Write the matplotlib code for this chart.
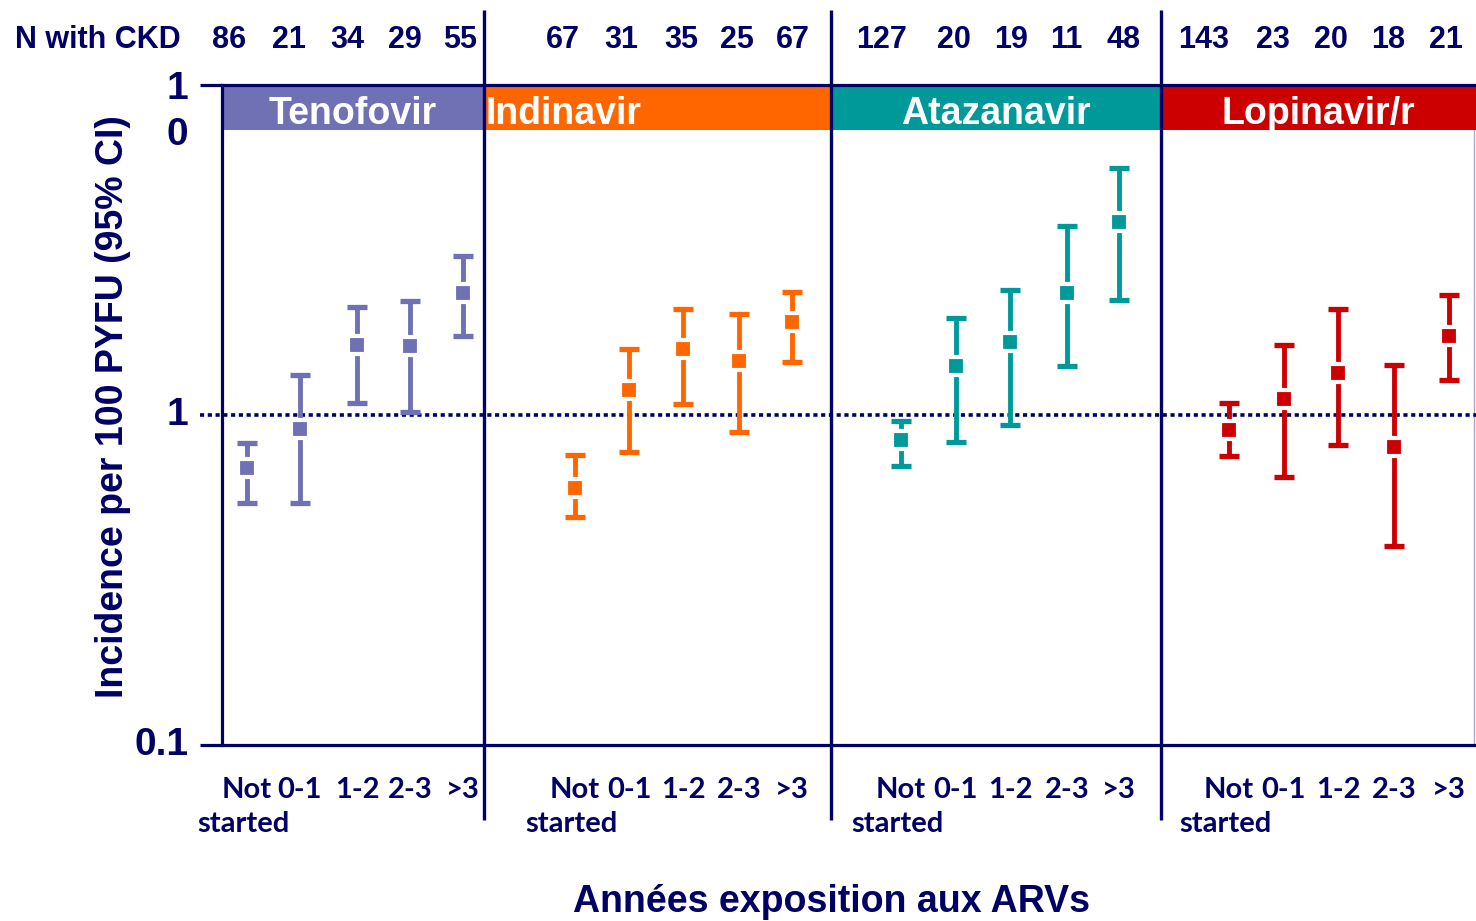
import matplotlib
matplotlib.use("Agg")
import matplotlib.pyplot as plt
import numpy as np
from matplotlib.patches import Rectangle

plt.rcParams['font.family'] = ['Liberation Sans', 'DejaVu Sans']
plt.rcParams['font.weight'] = 'bold'

NAVY = '#000066'
NARROW = ['Lato', 'DejaVu Sans']

# --- data ---
drugs = ['Tenofovir', 'Indinavir', 'Atazanavir', 'Lopinavir/r']
exposure = ['Not', '0-1', '1-2', '2-3', '>3']
first_label_2nd_line = 'started'

n_tenofovir = [86, 21, 34, 29, 55]
n_indinavir = [67, 31, 35, 25, 67]
n_atazanavir = [127, 20, 19, 11, 48]
n_lopinavir = [143, 23, 20, 18, 21]

inc_tenofovir = [0.69, 0.91, 1.63, 1.62, 2.35]
lo_tenofovir = [0.54, 0.54, 1.09, 1.02, 1.74]
hi_tenofovir = [0.82, 1.32, 2.12, 2.21, 3.03]

inc_indinavir = [0.60, 1.19, 1.58, 1.46, 1.91]
lo_indinavir = [0.49, 0.77, 1.08, 0.89, 1.45]
hi_indinavir = [0.755, 1.59, 2.10, 2.03, 2.36]

inc_atazanavir = [0.84, 1.41, 1.66, 2.35, 3.85]
lo_atazanavir = [0.70, 0.83, 0.93, 1.41, 2.23]
hi_atazanavir = [0.96, 1.97, 2.40, 3.74, 5.59]

inc_lopinavir = [0.90, 1.12, 1.34, 0.80, 1.74]
lo_lopinavir = [0.75, 0.65, 0.81, 0.40, 1.28]
hi_lopinavir = [1.09, 1.63, 2.09, 1.42, 2.31]

# --- layout (x axis runs in pixel-like units) ---
drug_colors = ['#7070b4', '#ff6600', '#009999', '#cc0000']
panel_edges = [222, 484, 831, 1161, 1476]
point_x = [[247, 300, 357, 410, 463],
           [575, 629, 683, 739, 792],
           [901, 956, 1010, 1067, 1119],
           [1229, 1284, 1338, 1394, 1449]]
n_label_x = [[229, 289, 347, 405, 460],
             [563, 621, 681, 737, 793],
             [882, 954, 1011, 1066, 1124],
             [1204, 1273, 1331, 1388, 1446]]

groups = [
    (n_tenofovir, inc_tenofovir, lo_tenofovir, hi_tenofovir),
    (n_indinavir, inc_indinavir, lo_indinavir, hi_indinavir),
    (n_atazanavir, inc_atazanavir, lo_atazanavir, hi_atazanavir),
    (n_lopinavir, inc_lopinavir, lo_lopinavir, hi_lopinavir),
]

W, H = 1476, 921
fig = plt.figure(figsize=(W / 100, H / 100), dpi=100)
ax = fig.add_axes([222 / W, (H - 745) / H, (W - 222) / W, 660 / H])
ax.set_yscale('log')
ax.set_ylim(0.1, 10)
ax.set_xlim(panel_edges[0], panel_edges[-1])

band_bottom = 7.29
xtrans = ax.get_xaxis_transform()

for i, (name, color, (n, inc, lo, hi)) in enumerate(zip(drugs, drug_colors, groups)):
    x0, x1 = panel_edges[i], panel_edges[i + 1]
    ax.add_patch(Rectangle((x0 + 2, band_bottom), x1 - x0 - 2, 10 - band_bottom,
                           facecolor=color, edgecolor='none', zorder=1))
    yc = np.sqrt(band_bottom * 10) * 0.955
    if name == 'Indinavir':
        ax.text(x0 + 2, yc, name, color='white', fontsize=27, ha='left', va='center', zorder=2)
    else:
        ax.text((x0 + x1) / 2, yc, name, color='white', fontsize=27, ha='center', va='center', zorder=2)

    inc = np.array(inc)
    yerr = [inc - np.array(lo), np.array(hi) - inc]
    ax.errorbar(point_x[i], inc, yerr=yerr, fmt='none', ecolor=color,
                elinewidth=3.5, capsize=7, capthick=3.8, zorder=3)
    ax.plot(point_x[i], inc, 's', color=color, ms=13.5, mec='white', mew=3, zorder=4)

    for xl, v in zip(n_label_x[i], n):
        ax.text(xl, 1.068, str(v), transform=xtrans, color=NAVY, fontsize=22,
                ha='center', va='center', clip_on=False)

    ax.text(point_x[i][0] - 4, -0.1197, first_label_2nd_line, transform=xtrans, color=NAVY,
            fontsize=21, family=NARROW, ha='center', va='center', clip_on=False)

    if i > 0:
        ax.plot([x0, x0], [-0.1136, 1.1136], transform=xtrans, color=NAVY,
                lw=2.4, clip_on=False, zorder=5, solid_capstyle='butt')

# dotted reference line at 1
ax.plot([200, 1476], [1, 1], color=NAVY, lw=2.6, linestyle=(0, (1.15, 1.0)),
        clip_on=False, zorder=2)

# spines and ticks
for side in ['left', 'top', 'bottom']:
    ax.spines[side].set_color(NAVY)
    ax.spines[side].set_linewidth(2.3)
ax.spines['right'].set_visible(False)
ax.plot([1474, 1474], [0.1, 10], color='#a8a8d0', lw=1, zorder=0)

ax.set_yticks([0.1, 1, 10])
ax.yaxis.set_minor_locator(matplotlib.ticker.NullLocator())
ax.set_yticklabels([])
ax.tick_params(axis='y', length=16, width=2.3, color=NAVY)
ax.yaxis.get_major_ticks()[1].tick1line.set_visible(False)

ytrans = ax.get_yaxis_transform()
ax.text(-0.027, 0.1, '0.1', transform=ytrans, fontsize=28, color=NAVY, ha='right', va='center')
ax.text(-0.027, 1, '1', transform=ytrans, fontsize=28, color=NAVY, ha='right', va='center')
ax.annotate('1\n0', xy=(-0.027, 10), xycoords=ytrans, xytext=(0, 14), textcoords='offset pixels',
            fontsize=28, color=NAVY, ha='right', va='top', linespacing=1.35)

xt = [x for row in point_x for x in row]
ax.set_xticks(xt)
ax.set_xticklabels(exposure * len(drugs), family=NARROW, fontsize=21,
                   color=NAVY, fontweight='bold')
ax.tick_params(axis='x', length=0, pad=23)

fig.text(15 / W, (H - 40) / H, 'N with CKD', fontsize=22, color=NAVY, ha='left', va='center')
fig.text(113 / W, (H - 407) / H, 'Incidence per 100 PYFU (95% CI)', fontsize=27,
         color=NAVY, rotation=90, ha='center', va='center')
fig.text(832 / W, (H - 902) / H, 'Années exposition aux ARVs', fontsize=27,
         color=NAVY, ha='center', va='center')

fig.savefig('out.png', dpi=100)
